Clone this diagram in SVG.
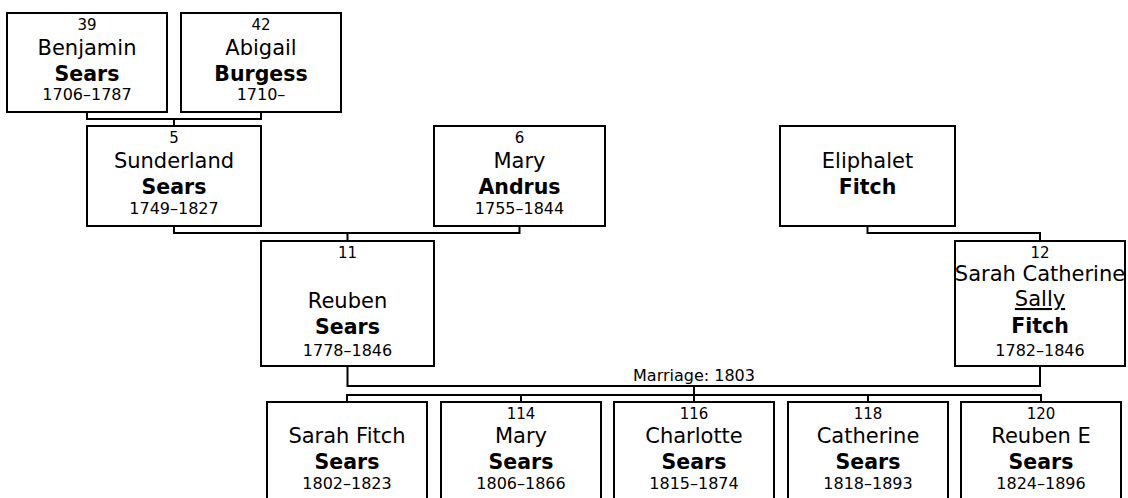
<svg xmlns="http://www.w3.org/2000/svg" width="1128" height="498" viewBox="0 0 1128 498">
<style>
.box{fill:#fff;stroke:#000;stroke-width:2}
.c{fill:none;stroke:#000;stroke-width:2}
text{font-family:"DejaVu Sans",Verdana,sans-serif;fill:#000;text-anchor:middle}
.n{font-size:15px}
.g{font-size:21px}
.s{font-size:20.5px;font-weight:bold}
.d{font-size:16px}
.m{font-size:16px}
</style>
<rect width="1128" height="498" fill="#fff"/>
<g id="connectors">
<path class="c" d="M87 112V119H261V112M174 119V126"/>
<path class="c" d="M174 226V233H519.5V226M347.5 233V241"/>
<path class="c" d="M867.5 226V233H1040V241"/>
<path class="c" d="M347.5 366V386H1040V366M694 386V395"/>
<path class="c" d="M347 402V395H1041V402M521 395V402M694 395V402M868 395V402"/>
<text class="m" x="694" y="381">Marriage: 1803</text>
</g>
<g id="p39">
<rect class="box" x="7" y="13" width="160" height="99"/>
<text class="n" x="87" y="30">39</text>
<text class="g" x="87" y="55">Benjamin</text>
<text class="s" x="87" y="81">Sears</text>
<text class="d" x="87" y="100">1706–1787</text>
</g>
<g id="p42">
<rect class="box" x="181" y="13" width="160" height="99"/>
<text class="n" x="261" y="30">42</text>
<text class="g" x="261" y="55">Abigail</text>
<text class="s" x="261" y="81">Burgess</text>
<text class="d" x="261" y="100">1710–</text>
</g>
<g id="p5">
<rect class="box" x="87" y="126" width="174" height="100"/>
<text class="n" x="174" y="143">5</text>
<text class="g" x="174" y="168">Sunderland</text>
<text class="s" x="174" y="194">Sears</text>
<text class="d" x="174" y="214">1749–1827</text>
</g>
<g id="p6">
<rect class="box" x="434" y="126" width="171" height="100"/>
<text class="n" x="519.5" y="143">6</text>
<text class="g" x="519.5" y="168">Mary</text>
<text class="s" x="519.5" y="194">Andrus</text>
<text class="d" x="519.5" y="214">1755–1844</text>
</g>
<g id="eliphalet">
<rect class="box" x="780" y="126" width="175" height="100"/>
<text class="g" x="867.5" y="168">Eliphalet</text>
<text class="s" x="867.5" y="194">Fitch</text>
</g>
<g id="p11">
<rect class="box" x="261" y="241" width="173" height="125"/>
<text class="n" x="347.5" y="258">11</text>
<text class="g" x="347.5" y="308">Reuben</text>
<text class="s" x="347.5" y="334">Sears</text>
<text class="d" x="347.5" y="356">1778–1846</text>
</g>
<g id="p12">
<rect class="box" x="955" y="241" width="170" height="125"/>
<text class="n" x="1040" y="258">12</text>
<text class="g" x="1040" y="281">Sarah Catherine</text>
<text class="g" x="1040" y="306" text-decoration="underline">Sally</text>
<text class="s" x="1040" y="333">Fitch</text>
<text class="d" x="1040" y="356">1782–1846</text>
</g>
<g id="c1">
<rect class="box" x="267" y="402" width="160" height="110"/>
<text class="g" x="347" y="443">Sarah Fitch</text>
<text class="s" x="347" y="469">Sears</text>
<text class="d" x="347" y="489">1802–1823</text>
</g>
<g id="c114">
<rect class="box" x="441" y="402" width="160" height="110"/>
<text class="n" x="521" y="419">114</text>
<text class="g" x="521" y="443">Mary</text>
<text class="s" x="521" y="469">Sears</text>
<text class="d" x="521" y="489">1806–1866</text>
</g>
<g id="c116">
<rect class="box" x="614" y="402" width="160" height="110"/>
<text class="n" x="694" y="419">116</text>
<text class="g" x="694" y="443">Charlotte</text>
<text class="s" x="694" y="469">Sears</text>
<text class="d" x="694" y="489">1815–1874</text>
</g>
<g id="c118">
<rect class="box" x="788" y="402" width="160" height="110"/>
<text class="n" x="868" y="419">118</text>
<text class="g" x="868" y="443">Catherine</text>
<text class="s" x="868" y="469">Sears</text>
<text class="d" x="868" y="489">1818–1893</text>
</g>
<g id="c120">
<rect class="box" x="961" y="402" width="160" height="110"/>
<text class="n" x="1041" y="419">120</text>
<text class="g" x="1041" y="443">Reuben E</text>
<text class="s" x="1041" y="469">Sears</text>
<text class="d" x="1041" y="489">1824–1896</text>
</g>
</svg>
